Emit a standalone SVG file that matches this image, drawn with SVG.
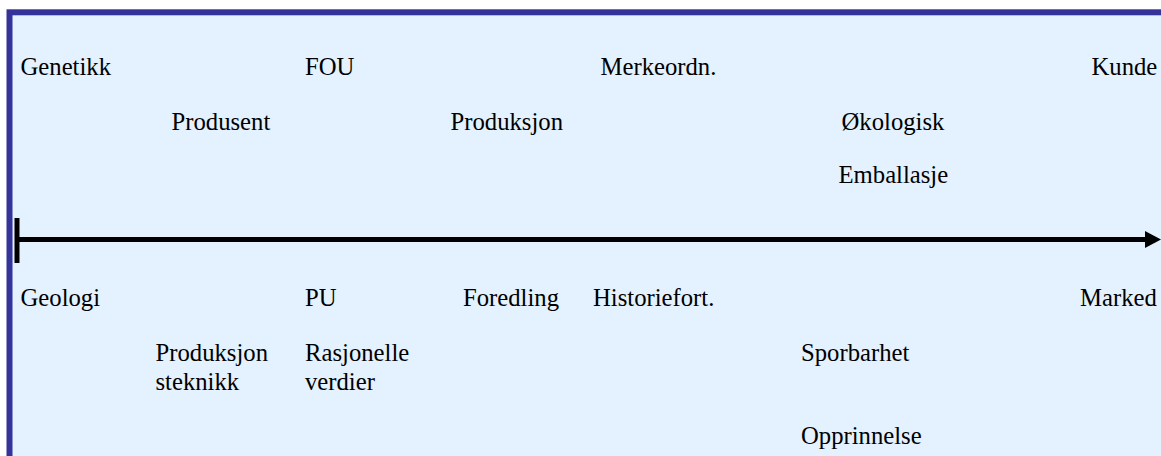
<svg xmlns="http://www.w3.org/2000/svg" width="1161" height="456" viewBox="0 0 1161 456">
<style>
text{font-family:"Liberation Serif","Times New Roman",serif;font-size:24.7px;fill:#000}
.axis{stroke:#000;stroke-width:5;fill:none}
</style>
<defs>
<marker id="ah" markerUnits="userSpaceOnUse" markerWidth="20" markerHeight="20" refX="1" refY="9" orient="auto">
<path d="M0,0.5 L16,9 L0,17.5 Z" fill="#000"/>
</marker>
</defs>
<rect x="0" y="0" width="1161" height="456" fill="#fff"/>
<rect id="frame" x="9.5" y="12.3" width="1170" height="470" fill="#E4F1FF" stroke="#333399" stroke-width="6"/>
<g id="connectors">
<line class="axis" x1="17" y1="239.5" x2="1146" y2="239.5" marker-end="url(#ah)"/>
<line class="axis" x1="17" y1="218" x2="17" y2="263"/>
</g>
<g id="genetikk"><text x="20.5" y="75">Genetikk</text></g>
<g id="fou"><text x="305" y="75">FOU</text></g>
<g id="merkeordn"><text x="600.5" y="75">Merkeordn.</text></g>
<g id="kunde"><text x="1091.5" y="75">Kunde</text></g>
<g id="produsent"><text x="171.5" y="130">Produsent</text></g>
<g id="produksjon"><text x="450.5" y="130">Produksjon</text></g>
<g id="okologisk"><text x="841.5" y="130">Økologisk</text></g>
<g id="emballasje"><text x="838.5" y="183">Emballasje</text></g>
<g id="geologi"><text x="20.5" y="306">Geologi</text></g>
<g id="pu"><text x="305" y="306">PU</text></g>
<g id="foredling"><text x="463" y="306">Foredling</text></g>
<g id="historiefort"><text x="593" y="306">Historiefort.</text></g>
<g id="marked"><text x="1080" y="306">Marked</text></g>
<g id="produksjonsteknikk"><text x="155.5" y="361">Produksjon</text><text x="155.5" y="389.5">steknikk</text></g>
<g id="rasjonelle"><text x="305" y="361">Rasjonelle</text><text x="305" y="389.5">verdier</text></g>
<g id="sporbarhet"><text x="801" y="361">Sporbarhet</text></g>
<g id="opprinnelse"><text x="801" y="443.5">Opprinnelse</text></g>
</svg>
